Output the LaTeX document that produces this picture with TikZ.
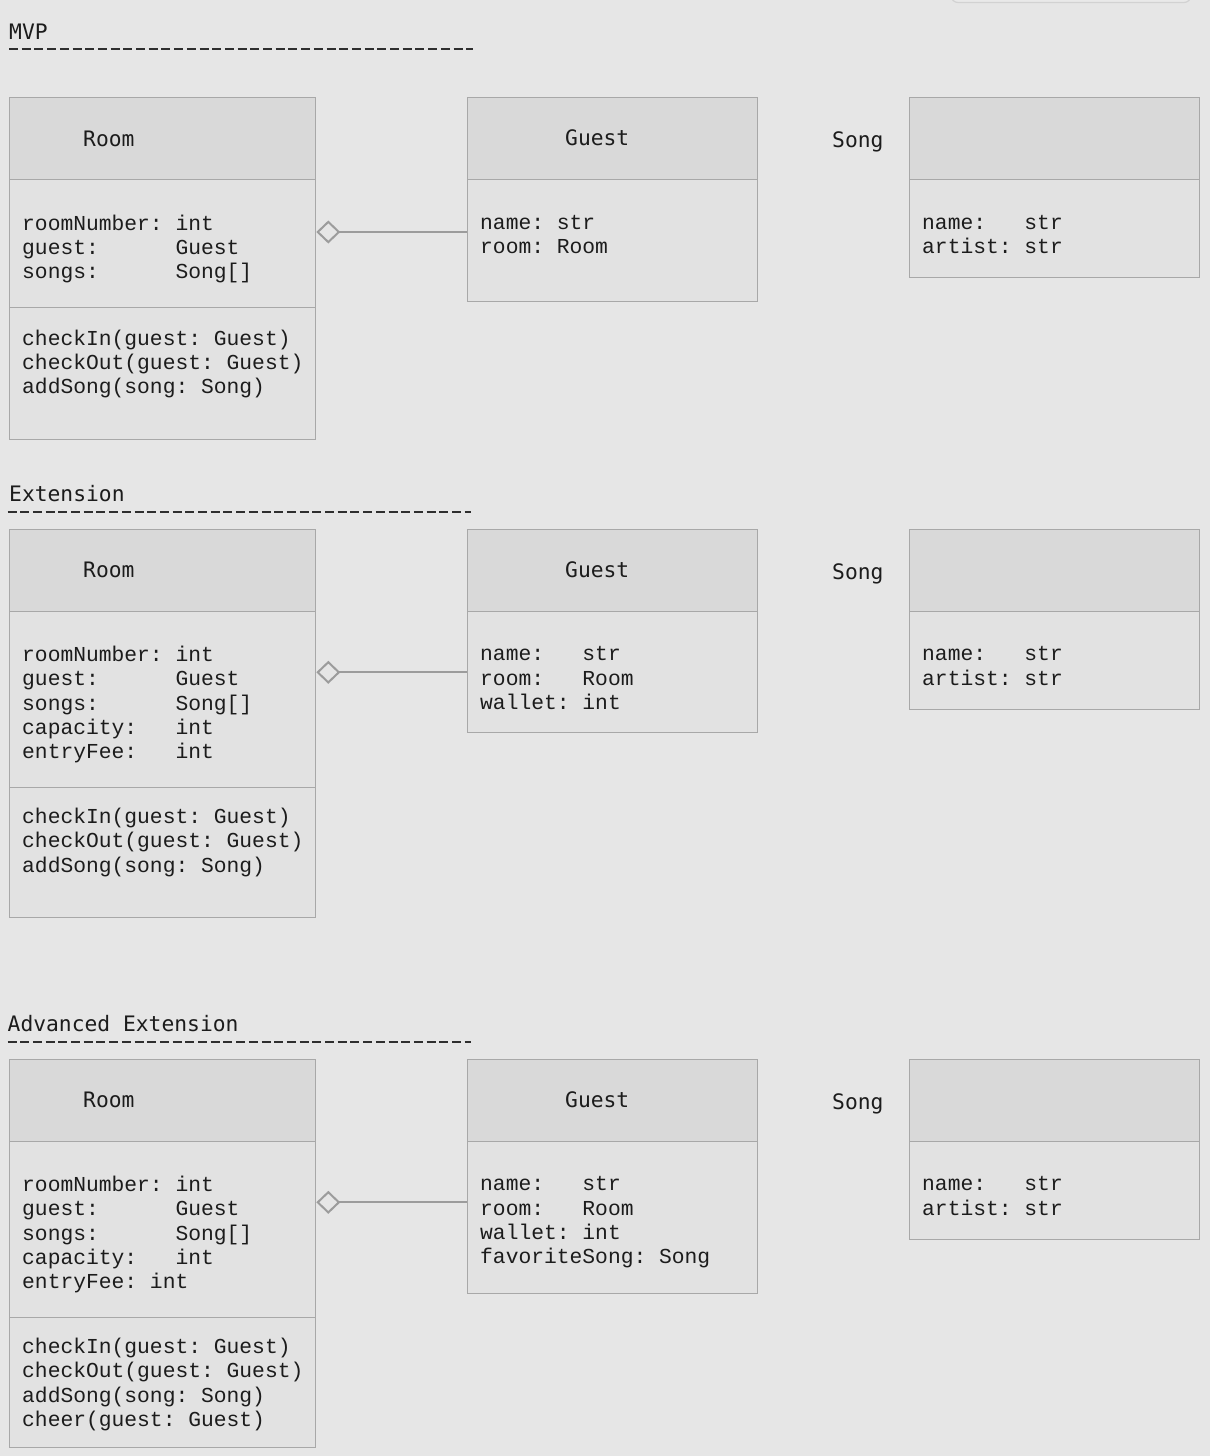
\documentclass[tikz,border=0pt]{standalone}
\usepackage{fontspec}
\newfontfamily\titlefont{DejaVu Sans Mono}
\newfontfamily\bodyfont{Liberation Mono}
\newcommand\spc[1]{\kern#1\fontcharwd\font`x\relax}
\usetikzlibrary{arrows.meta}
\definecolor{bgc}{HTML}{E6E6E6}
\definecolor{hdrc}{HTML}{D9D9D9}
\definecolor{cmpc}{HTML}{E2E2E2}
\definecolor{bordc}{HTML}{A8A8A8}
\definecolor{linec}{HTML}{9C9C9C}
\definecolor{txtc}{HTML}{1C1C1C}
\definecolor{rulec}{HTML}{2E2E2E}
\definecolor{fragc}{HTML}{D2D2D2}
\definecolor{fragf}{HTML}{E9E9E9}
\tikzset{
  hdrbox/.style={draw=bordc, fill=hdrc, line width=1.3pt, inner sep=0pt, anchor=north west, minimum height=82pt},
  cmpbox/.style={draw=bordc, fill=cmpc, line width=1.3pt, inner sep=0pt, anchor=north west},
  ttl/.style={font=\fontsize{21.3}{24}\titlefont, text=txtc, anchor=base west, inner sep=0pt},
  attr/.style={font=\fontsize{21.3}{24.3}\bodyfont, text=txtc, anchor=base west, inner sep=0pt, text width=290pt, align=left},
  aggr/.style={draw=linec, line width=2pt, {Diamond[open, length=24pt, width=23pt, line width=2pt]}-},
  headrule/.style={draw=rulec, line width=2pt, dash pattern=on 9pt off 3.7pt},
}
\begin{document}
\begin{tikzpicture}[x=1pt, y=-1pt]
\useasboundingbox (0,0) rectangle (1210,1456);
\fill[bgc] (0,0) rectangle (1210,1456);
\draw[draw=fragc, fill=fragf, line width=1.2pt, rounded corners=7pt] (951,-20) rectangle (1191,2.5);

% ================= MVP =================
\node[ttl] (hmvp) at (9,39) {MVP};
\coordinate (rmvpa) at (9,49);
\coordinate (rmvpb) at (473,49);
\draw[headrule] (rmvpa) -- (rmvpb);

\node[hdrbox, minimum width=306pt] (r1h) at (9,97) {};
\node[cmpbox, minimum width=306pt, minimum height=128pt] (r1a) at (9,179) {};
\node[cmpbox, minimum width=306pt, minimum height=132pt] (r1m) at (9,307) {};
\node[ttl] (r1t) at (83,146) {Room};
\node[attr] (r1at) at (22,230) {roomNumber:\spc1int\\guest:\spc6Guest\\songs:\spc6Song[]};
\node[attr] (r1mt) at (22,345.3) {checkIn(guest:\spc1Guest)\\checkOut(guest:\spc1Guest)\\addSong(song:\spc1Song)};

\node[hdrbox, minimum width=290pt] (g1h) at (467,97) {};
\node[cmpbox, minimum width=290pt, minimum height=122pt] (g1a) at (467,179) {};
\node[ttl] (g1t) at (565,145.5) {Guest};
\node[attr] (g1at) at (480,229.3) {name:\spc1str\\room:\spc1Room};

\node[ttl] (s1l) at (832,147.5) {Song};
\node[hdrbox, minimum width=290pt] (s1h) at (909,97) {};
\node[cmpbox, minimum width=290pt, minimum height=98pt] (s1a) at (909,179) {};
\node[attr] (s1at) at (922,229.3) {name:\spc3str\\artist:\spc1str};

\coordinate (y1) at (0,232);
\draw[aggr] (r1a.east |- y1) -- (g1a.west |- y1);

% ================= Extension =================
\node[ttl] (hext) at (9,501) {Extension};
\coordinate (rexta) at (7.5,512);
\coordinate (rextb) at (471,512);
\draw[headrule] (rexta) -- (rextb);

\node[hdrbox, minimum width=306pt] (r2h) at (9,529) {};
\node[cmpbox, minimum width=306pt, minimum height=176pt] (r2a) at (9,611) {};
\node[cmpbox, minimum width=306pt, minimum height=130pt] (r2m) at (9,787) {};
\node[ttl] (r2t) at (83,577.5) {Room};
\node[attr] (r2at) at (22,661.5) {roomNumber:\spc1int\\guest:\spc6Guest\\songs:\spc6Song[]\\capacity:\spc3int\\entryFee:\spc3int};
\node[attr] (r2mt) at (22,823.5) {checkIn(guest:\spc1Guest)\\checkOut(guest:\spc1Guest)\\addSong(song:\spc1Song)};

\node[hdrbox, minimum width=290pt] (g2h) at (467,529) {};
\node[cmpbox, minimum width=290pt, minimum height=121pt] (g2a) at (467,611) {};
\node[ttl] (g2t) at (565,577) {Guest};
\node[attr] (g2at) at (480,660.8) {name:\spc3str\\room:\spc3Room\\wallet:\spc1int};

\node[ttl] (s2l) at (832,579) {Song};
\node[hdrbox, minimum width=290pt] (s2h) at (909,529) {};
\node[cmpbox, minimum width=290pt, minimum height=98pt] (s2a) at (909,611) {};
\node[attr] (s2at) at (922,660.8) {name:\spc3str\\artist:\spc1str};

\coordinate (y2) at (0,672.3);
\draw[aggr] (r2a.east |- y2) -- (g2a.west |- y2);

% ================= Advanced Extension =================
\node[ttl] (hadv) at (7.5,1031) {Advanced\spc1Extension};
\coordinate (radva) at (7.5,1042);
\coordinate (radvb) at (471,1042);
\draw[headrule] (radva) -- (radvb);

\node[hdrbox, minimum width=306pt] (r3h) at (9,1059) {};
\node[cmpbox, minimum width=306pt, minimum height=176pt] (r3a) at (9,1141) {};
\node[cmpbox, minimum width=306pt, minimum height=130pt] (r3m) at (9,1317) {};
\node[ttl] (r3t) at (83,1107.5) {Room};
\node[attr] (r3at) at (22,1191.5) {roomNumber:\spc1int\\guest:\spc6Guest\\songs:\spc6Song[]\\capacity:\spc3int\\entryFee:\spc1int};
\node[attr] (r3mt) at (22,1353.5) {checkIn(guest:\spc1Guest)\\checkOut(guest:\spc1Guest)\\addSong(song:\spc1Song)\\cheer(guest:\spc1Guest)};

\node[hdrbox, minimum width=290pt] (g3h) at (467,1059) {};
\node[cmpbox, minimum width=290pt, minimum height=152pt] (g3a) at (467,1141) {};
\node[ttl] (g3t) at (565,1107) {Guest};
\node[attr] (g3at) at (480,1190.8) {name:\spc3str\\room:\spc3Room\\wallet:\spc1int\\favoriteSong:\spc1Song};

\node[ttl] (s3l) at (832,1109) {Song};
\node[hdrbox, minimum width=290pt] (s3h) at (909,1059) {};
\node[cmpbox, minimum width=290pt, minimum height=98pt] (s3a) at (909,1141) {};
\node[attr] (s3at) at (922,1190.8) {name:\spc3str\\artist:\spc1str};

\coordinate (y3) at (0,1202.3);
\draw[aggr] (r3a.east |- y3) -- (g3a.west |- y3);
\end{tikzpicture}
\end{document}
